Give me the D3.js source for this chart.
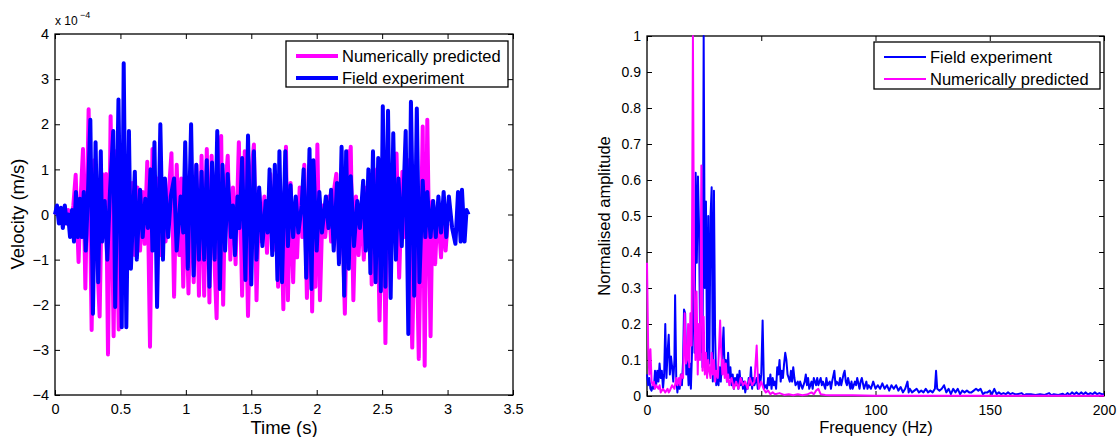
<!DOCTYPE html>
<html>
  <head>
    <meta charset="utf-8">
    <title>Velocity and spectrum</title>
    <script src="https://d3js.org/d3.v7.min.js"></script>
    <style>
      body { margin: 0; background: #fff; }
      svg text { font-family: "Liberation Sans", Arial, sans-serif; fill: #000; }
    </style>
  </head>
  <body>
    <svg id="chart" width="1120" height="437"></svg>
    <script>
      // left panel: time signals (velocity in 1e-4 m/s)
      var fieldTime = [0,0.015,0.03,0.045,0.06,0.075,0.09,0.10,0.115,0.13,0.145,0.16,0.175,0.19,0.205,0.22,0.235,0.25,0.27,0.29,0.31,0.33,0.35,0.36,0.38,0.40,0.42,0.445,0.46,0.485,0.51,0.525,0.545,0.565,0.58,0.61,0.625,0.65,0.67,0.69,0.71,0.73,0.745,0.76,0.78,0.805,0.825,0.84,0.865,0.885,0.91,0.93,0.96,0.98,0.995,1.015,1.04,1.06,1.08,1.10,1.12,1.14,1.16,1.18,1.20,1.22,1.24,1.26,1.28,1.30,1.32,1.345,1.36,1.375,1.395,1.41,1.43,1.455,1.475,1.50,1.52,1.54,1.56,1.585,1.61,1.625,1.64,1.66,1.68,1.70,1.715,1.735,1.76,1.78,1.80,1.82,1.84,1.86,1.885,1.90,1.92,1.945,1.96,1.975,2.00,2.02,2.04,2.07,2.09,2.11,2.13,2.155,2.17,2.19,2.21,2.225,2.245,2.26,2.285,2.31,2.33,2.355,2.375,2.395,2.41,2.43,2.45,2.47,2.49,2.505,2.525,2.545,2.565,2.585,2.605,2.625,2.65,2.68,2.70,2.72,2.745,2.765,2.785,2.81,2.83,2.845,2.87,2.89,2.91,2.93,2.95,2.97,2.99,3.01,3.035,3.06,3.08,3.10,3.11,3.13,3.145,3.16];
      var fieldVel = [0,0.2,-0.2,0.15,-0.3,0.2,-0.2,0,-0.5,0.1,-0.6,0.5,-0.5,0.35,-0.5,0.5,-0.8,0.3,2.1,-2.2,1.6,-1.5,1.4,-0.6,0.3,-1.0,0.5,1.85,-2.05,2.55,-2.5,3.35,-2.5,1.85,-1.2,0.95,-1.0,0.55,-0.5,0.35,-0.3,1.0,-0.8,1.6,-2.05,2.0,-1.0,0.8,-0.5,0.4,0.8,-0.8,0.4,-0.4,1.6,-1.2,2.0,-1.35,1.1,-1.0,0.95,-1.0,1.2,-1.6,1.15,-1.0,1.85,-1.65,1.1,-0.8,0.9,-0.5,0.2,-0.9,0.4,-0.3,1.25,-1.45,1.75,-1.55,1.4,-1.0,0.6,-0.7,0.3,-0.4,1.0,-0.9,1.1,-1.45,1.4,-1.5,1.4,-0.7,0.65,-0.5,0.4,-0.4,0.2,1.0,-1.4,1.45,-1.65,1.2,-0.8,0.5,-0.4,0.4,-0.3,0.55,-0.8,0.7,-1.1,1.5,-1.8,1.4,-1.2,0.85,-0.7,0.3,-0.3,0.75,-0.8,1.0,-1.3,1.4,-1.5,1.25,-1.7,2.4,-1.6,2.3,-1.85,1.8,-1.0,0.8,-0.7,1.85,-2.65,2.5,-1.8,2.35,-1.5,0.75,-0.5,0.5,-0.5,0.3,-0.5,0.4,-0.4,0.5,-0.5,0.4,-0.3,-0.65,0.5,-0.6,0.55,-0.6,0.1,0];

      var predTime = [0,0.02,0.04,0.06,0.08,0.10,0.12,0.14,0.158,0.18,0.195,0.214,0.232,0.257,0.28,0.30,0.32,0.341,0.36,0.375,0.39,0.405,0.425,0.448,0.465,0.487,0.51,0.53,0.55,0.57,0.59,0.61,0.63,0.65,0.67,0.685,0.705,0.726,0.745,0.765,0.785,0.805,0.825,0.845,0.87,0.89,0.91,0.93,0.95,0.965,0.98,1.00,1.02,1.04,1.06,1.08,1.10,1.12,1.14,1.16,1.18,1.197,1.217,1.235,1.255,1.27,1.285,1.30,1.32,1.34,1.36,1.38,1.405,1.43,1.45,1.475,1.50,1.52,1.54,1.56,1.58,1.60,1.62,1.645,1.665,1.685,1.705,1.725,1.745,1.765,1.78,1.80,1.82,1.835,1.85,1.87,1.89,1.905,1.925,1.95,1.965,1.98,1.99,2.005,2.025,2.045,2.065,2.09,2.11,2.13,2.15,2.17,2.19,2.215,2.24,2.25,2.26,2.28,2.30,2.32,2.34,2.36,2.38,2.40,2.41,2.42,2.44,2.46,2.48,2.51,2.525,2.545,2.565,2.585,2.60,2.61,2.63,2.655,2.675,2.70,2.73,2.755,2.78,2.81,2.825,2.845,2.87,2.885,2.905,2.925,2.95,2.965,2.985,3.0];
      var predVel = [0,0.1,-0.15,0.1,-0.2,0.1,-0.3,0.2,0.88,-1.05,0.3,1.45,-1.64,2.33,-2.56,1.2,-0.8,-2.26,0.9,-0.5,0.9,-3.1,2.18,-2.7,1.4,-2.55,1.2,-0.9,0.8,-0.6,0.7,-0.9,0.6,-0.8,0.5,-0.65,1.17,-2.93,1.45,-0.7,0.8,-0.9,0.7,-0.6,0.5,1.36,-1.82,1.1,-0.9,0.8,-1.6,0.6,-1.75,0.8,-1.5,1.1,-1.8,1.3,-1.8,1.45,-1.95,1.3,-0.9,-2.3,1.0,1.74,-2.0,0.5,1.3,-1.0,0.6,-1.1,1.6,-1.8,1.4,-2.25,0.9,1.55,-1.9,0.5,-0.6,0.4,-0.85,0.9,-0.8,0.6,-1.6,0.5,-2.1,1.5,-1.9,0.7,-1.5,0.2,-0.95,0.6,-0.5,1.1,-1.85,1.2,-2.15,0.3,-1.6,1.55,-1.9,0.2,-0.5,0.4,-0.6,0.5,0.9,-1.0,0.8,-2.2,1.4,-0.3,1.5,-1.9,0.4,-0.9,0.2,-1.0,0.6,-0.7,0.2,-1.55,0.7,1.0,-2.35,1.2,-2.85,1.0,-1.0,0.8,-0.2,1.35,-1.4,0.95,-0.5,1.2,-2.95,0.8,-3.2,1.95,-3.35,2.1,-2.7,0.3,-1.1,0.2,-0.95,0.1,-0.8,-0.2];

      // right panel: normalised spectra
      var fieldFreq = [0,0.5,1,1.5,2,2.5,3,3.5,4,4.5,5,5.5,6,6.5,7,7.5,8,8.5,9,9.5,10,10.5,11,11.5,12,12.3,12.8,13.3,13.8,14.3,14.8,15.3,15.8,16.2,16.7,17.2,17.7,18.2,18.7,19.2,19.7,20.3,20.8,21.3,21.8,22.3,22.8,23.3,23.8,24.3,24.8,25.3,25.8,26.3,26.8,27.3,27.8,28.3,28.8,29.3,29.8,30.3,30.8,31.3,31.8,32.3,32.8,33.5,34,34.5,35,35.5,36,36.5,37,37.5,38,38.5,39,39.5,40,40.5,41,41.5,42,42.5,43,43.5,44,44.5,45,45.5,46,46.5,47,47.5,48,48.5,49,49.5,50,50.6,51.2,52,52.5,53,53.5,54,54.5,55,55.5,56,56.5,57,57.5,58,58.5,59,59.5,60,60.5,61,61.5,62,62.5,63,63.5,64,64.5,65,66,66.5,67,68,69,69.5,70,70.5,71,72,72.5,73,74,74.5,75,76,76.5,77,78,78.5,79,80,80.5,81,82,82.5,83,84,84.5,85,86,86.5,87,87.5,88,89,89.5,90,91,91.5,92,93,93.5,94,95,96,96.5,97,98,99,100,101,102,103,104,105,106,107,108,109,110,111,112,113,114,114.5,115,116,117,118,119,120,121,122,123,124,125,126,126.5,127,128,129,130,131,132,133,134,135,136,137,138,139,140,141,142,143,144,145,146,147,148,149,150,151,152,153,154,155,156,157,158,159,160,161,162,164,165,166,168,170,172,174,176,177,178,180,182,183,184,185,186,187,188,189,190,191,192,193,194,195,196,197,198,199,200];
      var fieldAmp = [0.06,0.03,0.05,0.02,0.015,0.03,0.02,0.07,0.03,0.07,0.04,0.09,0.05,0.07,0.02,0.06,0.20,0.05,0.12,0.17,0.06,0.11,0.08,0.04,0.10,0.28,0.05,0.01,0.04,0.02,0.06,0.03,0.10,0.24,0.23,0.06,0.10,0.03,0.09,0.02,0.12,0.41,0.12,0.62,0.37,0.61,0.46,0.12,0.30,0.08,1.0,0.30,0.54,0.08,0.50,0.09,0.50,0.58,0.04,0.57,0.17,0.03,0.05,0.03,0.08,0.04,0.10,0.19,0.06,0.10,0.04,0.12,0.05,0.08,0.03,0.06,0.02,0.05,0.03,0.06,0.02,0.07,0.03,0.05,0.02,0.04,0.01,0.03,0.02,0.05,0.03,0.08,0.02,0.05,0.03,0.04,0.05,0.02,0.06,0.03,0.06,0.21,0.02,0.03,0.02,0.05,0.03,0.06,0.02,0.05,0.03,0.04,0.02,0.08,0.06,0.10,0.04,0.07,0.05,0.09,0.12,0.10,0.06,0.05,0.04,0.07,0.04,0.08,0.05,0.03,0.04,0.02,0.04,0.02,0.04,0.06,0.03,0.05,0.02,0.04,0.02,0.05,0.03,0.05,0.03,0.05,0.03,0.04,0.02,0.05,0.03,0.04,0.02,0.04,0.07,0.03,0.04,0.03,0.05,0.03,0.06,0.07,0.04,0.03,0.05,0.02,0.04,0.02,0.04,0.03,0.05,0.02,0.04,0.05,0.02,0.04,0.02,0.03,0.02,0.04,0.02,0.03,0.02,0.035,0.02,0.03,0.015,0.03,0.02,0.03,0.015,0.025,0.01,0.02,0.04,0.01,0.02,0.01,0.015,0.02,0.01,0.015,0.01,0.02,0.01,0.015,0.01,0.02,0.07,0.02,0.015,0.02,0.03,0.01,0.02,0.005,0.02,0.01,0.02,0.005,0.015,0.01,0.015,0.01,0.01,0.015,0.02,0.015,0.02,0.005,0.01,0.01,0.015,0.005,0.02,0.005,0.01,0.005,0.008,0.005,0.01,0.005,0.008,0.005,0.005,0.008,0.002,0.005,0.005,0.003,0.005,0.003,0.008,0.002,0.005,0.003,0.006,0.002,0.008,0.003,0.01,0.005,0.01,0.004,0.01,0.005,0.01,0.004,0.008,0.005,0.01,0.005,0.008,0.005,0.005];

      var predFreq = [0,0.5,1,1.5,2,2.5,3,3.5,4,5,5.5,6,7,8,9,9.5,10,11,12,12.8,13.3,14,14.5,15,15.8,16.5,17,17.5,18,18.5,19,19.5,20.1,20.6,21.2,21.7,22.2,22.7,23.2,23.8,24.3,24.8,25.3,25.8,26.3,26.8,27.3,27.8,28.3,28.8,29.3,29.8,30.3,31,32,32.5,33,33.5,34,34.5,35,35.5,36,37,38,39,40,41,42,43,44,45,46,47,48,48.5,49,50,51,52,53,54,55,56,58,60,62,64,66,68,70,72,73,74,75,76,78,80,90,100,120,150,200];
      var predAmp = [0.37,0.14,0.06,0.13,0.04,0.03,0.04,0.02,0.03,0.02,0.03,0.01,0.02,0.01,0.02,0.01,0.015,0.03,0.02,0.05,0.03,0.05,0.03,0.06,0.05,0.23,0.09,0.10,0.20,0.08,0.23,0.14,1.0,0.33,0.10,0.29,0.06,0.20,0.10,0.64,0.07,0.22,0.06,0.12,0.05,0.10,0.07,0.05,0.12,0.06,0.10,0.04,0.07,0.05,0.21,0.12,0.06,0.10,0.05,0.09,0.04,0.06,0.03,0.05,0.02,0.04,0.02,0.05,0.03,0.04,0.02,0.05,0.03,0.04,0.14,0.05,0.02,0.04,0.02,0.01,0.015,0.005,0.01,0.005,0.008,0.003,0.005,0.002,0.005,0.002,0.004,0.01,0.005,0.015,0.02,0.005,0.003,0.002,0.002,0.001,0.001,0.001,0.001];

      var timeTicks = [0,0.5,1,1.5,2,2.5,3,3.5];
      var velTicks = [-4,-3,-2,-1,0,1,2,3,4];
      var freqTicks = [0,50,100,150,200];
      var ampTicks = [0,0.1,0.2,0.3,0.4,0.5,0.6,0.7,0.8,0.9,1];

      var magenta = "#ff00ff", blue = "#0000ff";
      var svg = d3.select("#chart");

      function pairs(xs, ys) {
        return xs.map(function (x, i) { return [x, ys[i]]; });
      }

      function frame(x, y, xt, yt, fs) {
        var g = svg.append("g");
        var x0 = x.range()[0], x1 = x.range()[1], y0 = y.range()[0], y1 = y.range()[1];
        g.append("g").attr("transform", "translate(0," + y0 + ")")
          .call(d3.axisBottom(x).tickValues(xt).tickSize(-5).tickPadding(9).tickFormat(d3.format("")));
        g.append("g").attr("transform", "translate(0," + y1 + ")")
          .call(d3.axisTop(x).tickValues(xt).tickSize(-5).tickFormat(""));
        g.append("g").attr("transform", "translate(" + x0 + ",0)")
          .call(d3.axisLeft(y).tickValues(yt).tickSize(-5).tickPadding(6).tickFormat(function (d) { return String(d).replace("-", "\u2212"); }));
        g.append("g").attr("transform", "translate(" + x1 + ",0)")
          .call(d3.axisRight(y).tickValues(yt).tickSize(-5).tickFormat(""));
        g.selectAll(".domain").remove();
        g.selectAll(".tick line").attr("stroke", "#000").attr("stroke-width", 1);
        g.selectAll(".tick text").attr("font-size", fs).attr("font-family", "Liberation Sans, Arial, sans-serif");
        g.append("rect").attr("x", x0).attr("y", y1).attr("width", x1 - x0).attr("height", y0 - y1)
          .attr("fill", "none").attr("stroke", "#000").attr("stroke-width", 1.3);
        return g;
      }

      function legend(x, y, w, h, items, fs, lw) {
        var g = svg.append("g");
        g.append("rect").attr("x", x).attr("y", y).attr("width", w).attr("height", h)
          .attr("fill", "#fff").attr("stroke", "#000").attr("stroke-width", 1.3);
        items.forEach(function (it, i) {
          var cy = y + 15 + i * 22;
          g.append("line").attr("x1", x + 10).attr("x2", x + 52).attr("y1", cy).attr("y2", cy)
            .attr("stroke", it.color).attr("stroke-width", lw);
          g.append("text").attr("x", x + 56).attr("y", cy + 6).attr("font-size", fs).text(it.label);
        });
      }

      // ---- left panel
      var xL = d3.scaleLinear().domain([0, 3.5]).range([55, 513]);
      var yL = d3.scaleLinear().domain([-4, 4]).range([395, 34]);
      frame(xL, yL, timeTicks, velTicks, 14.5);

      var lineL = d3.line().x(function (d) { return xL(d[0]); }).y(function (d) { return yL(d[1]); });
      svg.append("path").attr("d", lineL(pairs(predTime, predVel)))
        .attr("fill", "none").attr("stroke", magenta).attr("stroke-width", 4).attr("stroke-linejoin", "round");
      svg.append("path").attr("d", lineL(pairs(fieldTime, fieldVel)))
        .attr("fill", "none").attr("stroke", blue).attr("stroke-width", 4).attr("stroke-linejoin", "round");

      legend(286, 41, 222, 46, [
        { label: "Numerically predicted", color: magenta },
        { label: "Field experiment", color: blue }
      ], 16.5, 4);

      svg.append("text").attr("x", 55).attr("y", 25).attr("font-size", 12).text("x 10");
      svg.append("text").attr("x", 80).attr("y", 18).attr("font-size", 9).text("\u22124");
      svg.append("text").attr("x", 284).attr("y", 434).attr("text-anchor", "middle").attr("font-size", 18.5).text("Time (s)");
      svg.append("text").attr("transform", "translate(24,214) rotate(-90)").attr("text-anchor", "middle")
        .attr("font-size", 18.5).text("Velocity (m/s)");

      // ---- right panel
      var xR = d3.scaleLinear().domain([0, 200]).range([647, 1104]);
      var yR = d3.scaleLinear().domain([0, 1]).range([396, 36]);
      frame(xR, yR, freqTicks, ampTicks, 14);

      var lineR = d3.line().x(function (d) { return xR(d[0]); }).y(function (d) { return yR(d[1]); });
      svg.append("path").attr("d", lineR(pairs(fieldFreq, fieldAmp)))
        .attr("fill", "none").attr("stroke", blue).attr("stroke-width", 2).attr("stroke-linejoin", "round");
      svg.append("path").attr("d", lineR(pairs(predFreq, predAmp)))
        .attr("fill", "none").attr("stroke", magenta).attr("stroke-width", 2).attr("stroke-linejoin", "round");

      legend(874, 42, 226, 47, [
        { label: "Field experiment", color: blue },
        { label: "Numerically predicted", color: magenta }
      ], 16.5, 2);

      svg.append("text").attr("x", 876).attr("y", 433).attr("text-anchor", "middle").attr("font-size", 16.5).text("Frequency (Hz)");
      svg.append("text").attr("transform", "translate(610,216) rotate(-90)").attr("text-anchor", "middle")
        .attr("font-size", 16.5).text("Normalised amplitude");
    </script>
  </body>
</html>
